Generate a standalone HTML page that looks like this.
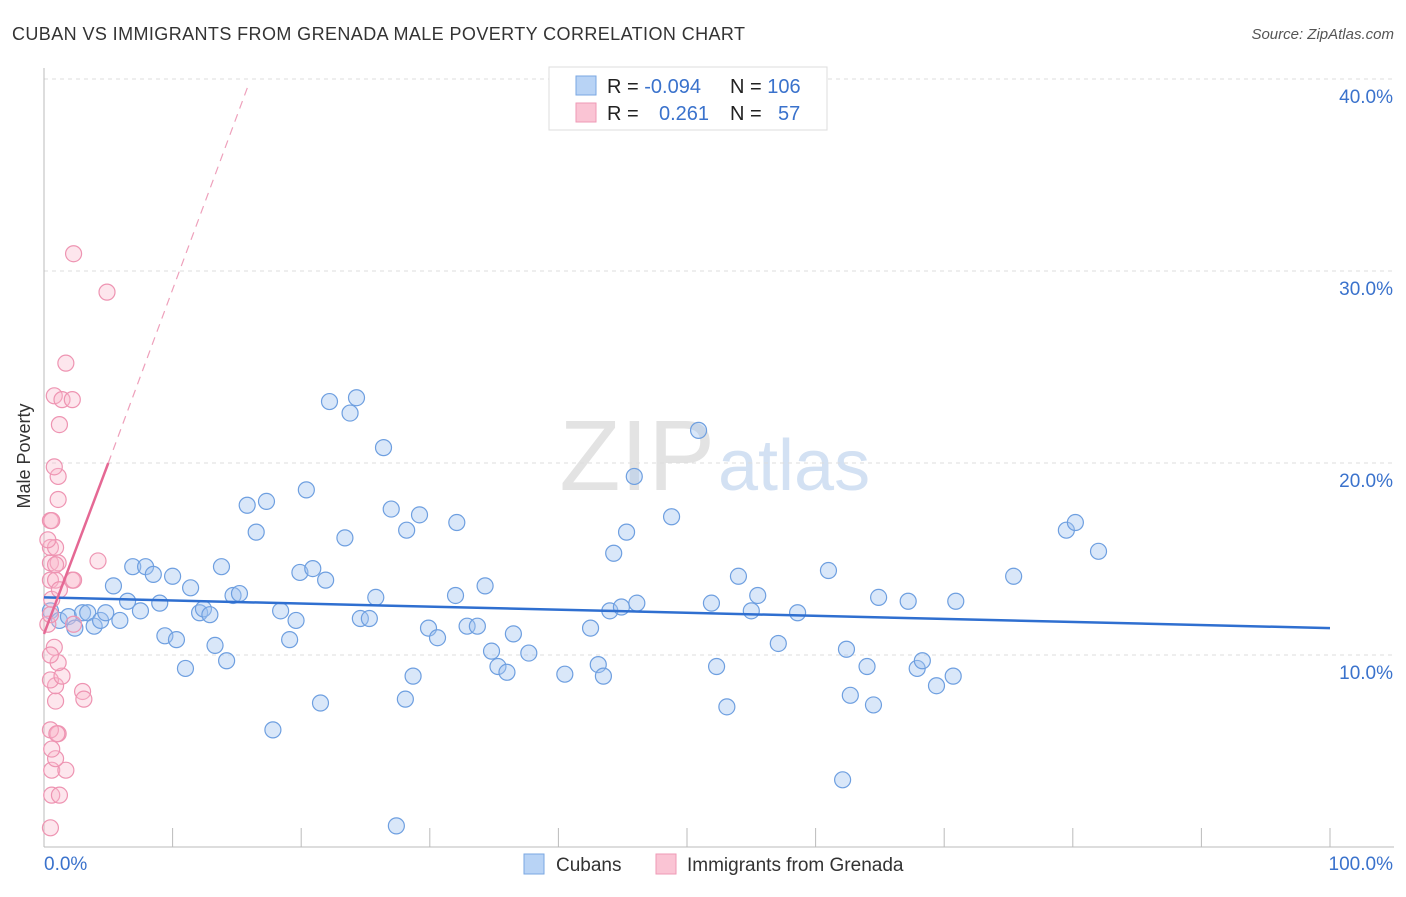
<!DOCTYPE html>
<html><head><meta charset="utf-8"><style>
body{margin:0;background:#fff;font-family:"Liberation Sans",sans-serif;}
svg text{font-family:"Liberation Sans",sans-serif;}
</style></head><body>
<svg id="chart" width="1406" height="892">
<text x="12" y="40" font-size="18" fill="#333" textLength="733">CUBAN VS IMMIGRANTS FROM GRENADA MALE POVERTY CORRELATION CHART</text>
<text x="1394" y="39" font-size="15" fill="#555" font-style="italic" text-anchor="end">Source: ZipAtlas.com</text>
<text x="30" y="456" font-size="18" fill="#333" text-anchor="middle" transform="rotate(-90 30 456)">Male Poverty</text>
<text x="715" y="490" font-size="100" fill="#e3e3e3" text-anchor="end" font-family="Liberation Serif">ZIP</text>
<text x="718" y="490" font-size="72" fill="#d3e1f3">atlas</text>
<g id="grid"></g><g id="ticks"></g><g id="pts"></g><g id="lines"></g>
<g>
<rect x="549" y="67" width="278" height="63" fill="#fff" stroke="#ddd"/>
<rect x="576" y="76" width="20" height="19" fill="#b8d3f5" stroke="#7aa7e2"/>
<rect x="576" y="103" width="20" height="19" fill="#fac4d4" stroke="#ef9ab6"/>
<text x="607" y="93" font-size="20" fill="#222">R = <tspan fill="#3a72cc">-0.094</tspan></text>
<text x="730" y="93" font-size="20" fill="#222">N = <tspan fill="#3a72cc">106</tspan></text>
<text x="607" y="120" font-size="20" fill="#222">R = <tspan x="659" fill="#3a72cc">0.261</tspan></text>
<text x="730" y="120" font-size="20" fill="#222">N = <tspan x="778" fill="#3a72cc">57</tspan></text>
</g>
<g>
<rect x="524" y="854" width="20" height="20" fill="#b8d3f5" stroke="#7aa7e2"/>
<text x="556" y="871" font-size="19" fill="#333">Cubans</text>
<rect x="656" y="854" width="20" height="20" fill="#fac4d4" stroke="#ef9ab6"/>
<text x="687" y="871" font-size="19" fill="#333">Immigrants from Grenada</text>
</g>
</svg>
<script>
const yTicks=[10,20,30,40];
const xTickLabels=["0.0%","100.0%"];
const cubanX=[0.5,1.2,1.9,2.4,3.0,3.4,3.9,4.4,4.8,5.4,5.9,6.5,6.9,7.5,7.9,8.5,9.0,9.4,10.0,10.3,11.0,11.4,12.1,12.4,12.9,13.3,13.8,14.2,14.7,15.2,15.8,16.5,17.3,17.8,18.4,19.1,19.6,19.9,20.4,20.9,21.5,21.9,22.2,23.4,23.8,24.3,24.6,25.3,25.8,26.4,27.0,27.4,28.1,28.2,28.7,29.2,29.9,30.6,32.0,32.1,32.9,33.7,34.3,34.8,35.3,36.0,36.5,37.7,40.5,42.5,43.1,43.5,44.0,44.3,44.9,45.3,45.9,46.1,48.8,50.9,51.9,52.3,53.1,54.0,55.0,55.5,57.1,58.6,61.0,62.1,62.4,62.7,64.0,64.5,64.9,67.2,67.9,68.3,69.4,70.7,70.9,75.4,79.5,80.2,82.0];
const cubanY=[12.3,11.8,12.0,11.4,12.2,12.2,11.5,11.8,12.2,13.6,11.8,12.8,14.6,12.3,14.6,14.2,12.7,11.0,14.1,10.8,9.3,13.5,12.2,12.4,12.1,10.5,14.6,9.7,13.1,13.2,17.8,16.4,18.0,6.1,12.3,10.8,11.8,14.3,18.6,14.5,7.5,13.9,23.2,16.1,22.6,23.4,11.9,11.9,13.0,20.8,17.6,1.1,7.7,16.5,8.9,17.3,11.4,10.9,13.1,16.9,11.5,11.5,13.6,10.2,9.4,9.1,11.1,10.1,9.0,11.4,9.5,8.9,12.3,15.3,12.5,16.4,19.3,12.7,17.2,21.7,12.7,9.4,7.3,14.1,12.3,13.1,10.6,12.2,14.4,3.5,10.3,7.9,9.4,7.4,13.0,12.8,9.3,9.7,8.4,8.9,12.8,14.1,16.5,16.9,15.4];
const grenX=[0.5,0.6,1.2,0.6,1.7,0.9,0.6,1.1,0.5,1.0,0.9,0.9,0.5,1.4,1.1,0.8,0.5,0.3,0.5,0.6,0.5,0.9,2.2,2.3,0.5,1.1,4.2,0.5,0.9,0.5,0.6,1.1,1.1,0.8,1.2,0.8,1.4,2.2,1.7,3.0,3.1,2.3,4.9,2.3,0.3,0.9,1.2];
const grenY=[1.0,2.7,2.7,4.0,4.0,4.6,5.1,5.9,6.1,5.9,7.6,8.4,8.7,8.9,9.6,10.4,10.0,11.6,12.1,12.9,13.9,13.9,13.9,13.9,14.8,14.8,14.9,15.6,15.6,17.0,17.0,18.1,19.3,19.8,22.0,23.5,23.3,23.3,25.2,8.1,7.7,11.6,28.9,30.9,16.0,14.7,13.4];
const cubanTrend=[[0,13.0],[100,11.4]];
const grenTrend=[[0,11.1],[5,20.0]];
const grenTrendExt=[[5,20.0],[15.9,39.7]];
const X=v=>44+v*12.86, Y=v=>847-v*19.2;
const NS="http://www.w3.org/2000/svg";
function mk(tag,attrs,parent){const e=document.createElementNS(NS,tag);for(const k in attrs)e.setAttribute(k,attrs[k]);document.getElementById(parent).appendChild(e);return e;}
yTicks.forEach(t=>{
 const l=mk('line',{x1:44,x2:1394,y1:Y(t),y2:Y(t),stroke:'#ddd','stroke-dasharray':'4,4'},'grid');
 
 
 const tx=mk('text',{x:1393,y:Y(t)+24,'font-size':19,fill:'#3a72cc','text-anchor':'end'},'grid');tx.textContent=t.toFixed(1)+'%';
 
 
});
const ax=mk('line',{x1:44,x2:44,y1:68,y2:847,stroke:'#bbb'},'ticks');


const bx=mk('line',{x1:44,x2:1394,y1:847,y2:847,stroke:'#bbb'},'ticks');


for(let i=1;i<=10;i++){const t=mk('line',{x1:X(i*10),x2:X(i*10),y1:828,y2:847,stroke:'#bbb'},'ticks');
 
 }
[[0,'start',44],[100,'end',1393]].forEach((d,i)=>{const t=mk('text',{x:d[2],y:870,'font-size':19,fill:'#3a72cc','text-anchor':d[1]},'ticks');t.textContent=xTickLabels[i];
 
 });
cubanX.forEach((x,i)=>{const c=mk('circle',{cx:X(x),cy:Y(cubanY[i]),r:8,fill:'rgba(160,196,240,0.4)',stroke:'#6e9fe0','stroke-width':1.2},'pts');
 
 });
grenX.forEach((x,i)=>{const c=mk('circle',{cx:X(x),cy:Y(grenY[i]),r:8,fill:'rgba(248,182,203,0.35)',stroke:'#ee94b2','stroke-width':1.2},'pts');
 
 });
const l1=mk('line',{x1:X(cubanTrend[0][0]),y1:Y(cubanTrend[0][1]),x2:X(cubanTrend[1][0]),y2:Y(cubanTrend[1][1]),stroke:'#2f6fd0','stroke-width':2.5},'lines');


const l2=mk('line',{x1:X(grenTrend[0][0]),y1:Y(grenTrend[0][1]),x2:X(grenTrend[1][0]),y2:Y(grenTrend[1][1]),stroke:'#e56894','stroke-width':2.5},'lines');


const l3=mk('line',{x1:X(grenTrendExt[0][0]),y1:Y(grenTrendExt[0][1]),x2:X(grenTrendExt[1][0]),y2:Y(grenTrendExt[1][1]),stroke:'#eea0bb','stroke-width':1.2,'stroke-dasharray':'8,6'},'lines');


</script>
</body></html>
